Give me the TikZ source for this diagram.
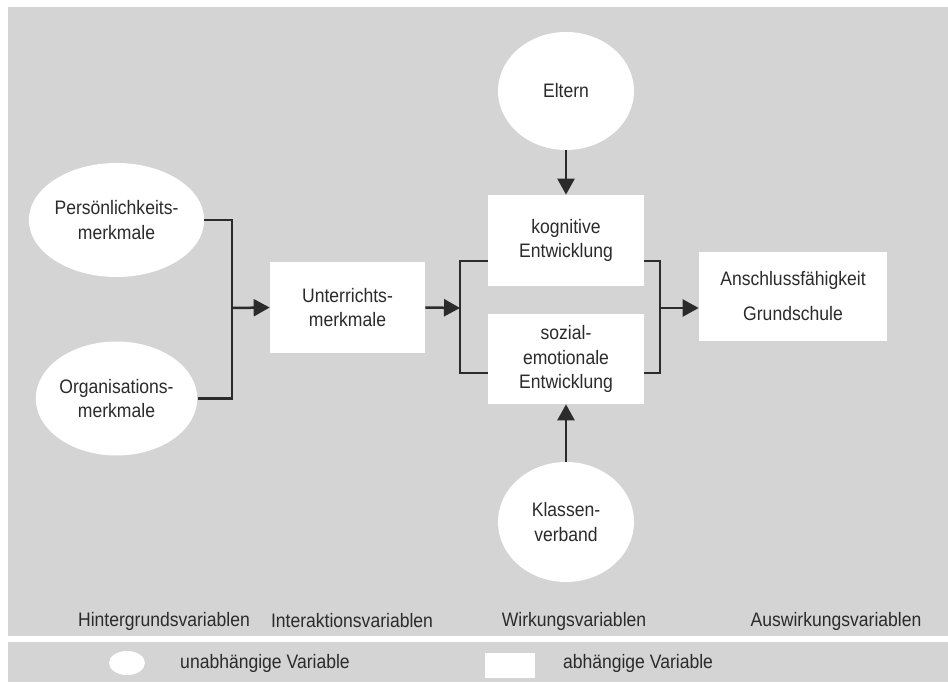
\documentclass[tikz,border=0pt]{standalone}
\usepackage{fontspec}
\setmainfont{Liberation Sans}[FakeStretch=0.9]
\usetikzlibrary{arrows.meta,shapes.geometric}

\definecolor{panelgrey}{HTML}{D4D4D4}
\definecolor{inkgrey}{HTML}{2B2B2B}

\tikzset{
  indep/.style={ellipse, fill=white, inner sep=0pt, align=center},
  dep/.style={rectangle, fill=white, inner sep=0pt, align=center},
  link/.style={draw=inkgrey, line width=0.5mm},
  flow/.style={link, -{Triangle[length=3.2mm,width=3.4mm]}}
}

\begin{document}
\begin{tikzpicture}[x=0.2mm, y=0.2mm, text=inkgrey,
    font=\fontsize{11.1pt}{13.7pt}\selectfont]
\useasboundingbox (0,0) rectangle (948,682);

%% panels
\fill[panelgrey] (8,46) rectangle (948,675);
\fill[panelgrey] (8,0) rectangle (948,40);

%% independent variables
\node[indep, minimum width=31.4mm, minimum height=22.8mm] (pers) at (116.5,462) {Persönlichkeits-\\merkmale};
\node[indep, minimum width=31.4mm, minimum height=22.8mm] (orga) at (116.5,283.5) {Organisations-\\merkmale};
\node[indep, minimum width=27.2mm, minimum height=23.6mm] (eltern) at (566,591) {Eltern};
\node[indep, minimum width=27.2mm, minimum height=24mm] (klassen) at (566,160) {Klassen-\\verband};

%% dependent variables
\node[dep, minimum width=31mm, minimum height=18.2mm] (unter) at (347.5,374.5) {Unterrichts-\\merkmale};
\node[dep, minimum width=31.2mm, minimum height=18.2mm] (kog) at (566,441.5) {kognitive\\Entwicklung};
\node[dep, minimum width=31.2mm, minimum height=18mm] (soz) at (566,323) {sozial-\\emotionale\\Entwicklung};
\node[dep, minimum width=37.6mm, minimum height=17.8mm,
      font=\fontsize{11.1pt}{19.9pt}\selectfont] (ansch) at (793,385.5) {Anschlussfähigkeit\\Grundschule};

%% junctions
\coordinate (jl) at (232,374);
\coordinate (jm) at (460,374);
\coordinate (mtop) at (460,421);
\coordinate (mbot) at (460,309);
\coordinate (jr) at (660,374);
\coordinate (rtop) at (660,421);
\coordinate (rbot) at (660,309);

%%% edges
\draw[link] (pers.east) -| (jl) |- (orga.east);          %% pers, orga
\draw[flow] (jl) -- (unter.west);                         %% -> unter
\draw[flow] (unter.east) -- (jm);                         %% unter ->
\draw[link] (kog.west |- mtop) -- (mtop) -- (mbot) -- (soz.west |- mbot);
\draw[link] (kog.east |- rtop) -- (rtop) -- (rbot) -- (soz.east |- rbot);
\draw[flow] (jr) -- (ansch.west |- jr);                   %% -> ansch
\draw[flow] (eltern.south) -- (kog.north);                %% eltern
\draw[flow] (klassen.north) -- (soz.south);               %% klassen

%% column labels
\node (hint) at (164,61) {Hintergrundsvariablen};
\node (inter) at (352,61) {Interaktionsvariablen};
\node (wirk) at (574,61) {Wirkungsvariablen};
\node (ausw) at (836,61) {Auswirkungsvariablen};

%% legend
\node[indep, minimum width=7.2mm, minimum height=4.8mm] (keyindep) at (127,19) {};
\node (keyindeptext) at (265,19) {unabhängige Variable};
\node[dep, minimum width=10mm, minimum height=5mm] (keydep) at (510,17) {};
\node (keydeptext) at (638,19) {abhängige Variable};
\end{tikzpicture}
\end{document}
